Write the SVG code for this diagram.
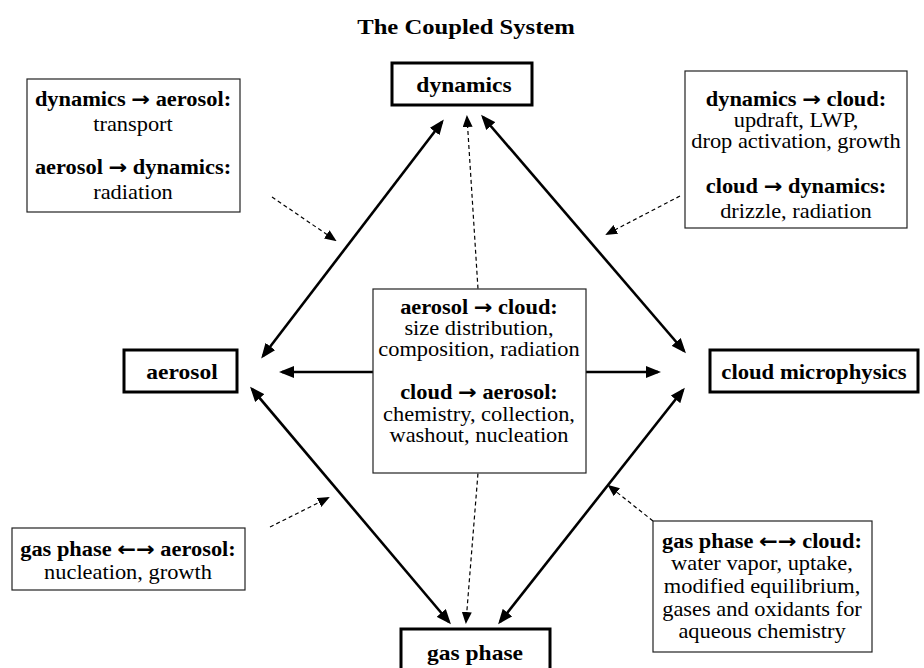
<svg xmlns="http://www.w3.org/2000/svg" width="924" height="668" viewBox="0 0 924 668">
  <style>
    text { font-family: "Liberation Serif", "Times New Roman", serif; fill: #000; text-anchor: middle; }
    .title { font-size: 22px; font-weight: bold; }
    .node-label { font-size: 21px; font-weight: bold; }
    .h { font-size: 20px; font-weight: bold; }
    .t { font-size: 20px; }
    .arr { font-family: "DejaVu Sans", sans-serif; font-weight: bold; }
    .node-box { fill: #fff; stroke: #000; stroke-width: 3; }
    .note-box { fill: #fff; stroke: #222; stroke-width: 1.2; }
    .solid { stroke: #000; stroke-width: 2.6; fill: none; }
    .dashed { stroke: #000; stroke-width: 1.2; stroke-dasharray: 4 3; fill: none; }
  </style>
  <defs>
    <marker id="head" markerUnits="userSpaceOnUse" markerWidth="16" markerHeight="12" refX="12" refY="6" orient="auto-start-reverse">
      <path d="M0,0 L15,6 L0,12 z" fill="#000"/>
    </marker>
    <marker id="head-small" markerUnits="userSpaceOnUse" markerWidth="12" markerHeight="10" refX="10" refY="5" orient="auto-start-reverse">
      <path d="M0,0 L12,5 L0,10 z" fill="#000"/>
    </marker>
  </defs>

  <rect width="924" height="668" fill="#fff"/>

  <text class="title" transform="translate(466,34) scale(1.12,1)">The Coupled System</text>

  <!-- connectors -->
  <g id="connectors">
    <line class="solid" x1="442" y1="122" x2="263" y2="356" marker-start="url(#head)" marker-end="url(#head)"/>
    <line class="solid" x1="483" y1="117" x2="684" y2="351" marker-start="url(#head)" marker-end="url(#head)"/>
    <line class="solid" x1="252" y1="389" x2="449" y2="622" marker-start="url(#head)" marker-end="url(#head)"/>
    <line class="solid" x1="683" y1="390" x2="500" y2="622" marker-start="url(#head)" marker-end="url(#head)"/>
    <line class="solid" x1="373" y1="372" x2="282" y2="372" marker-end="url(#head)"/>
    <line class="solid" x1="586" y1="372" x2="658" y2="372" marker-end="url(#head)"/>
    <path class="dashed" d="M467,117 L478,289 L478,473 L466,622" marker-start="url(#head-small)" marker-end="url(#head-small)"/>
    <line class="dashed" x1="272" y1="197" x2="335" y2="240" marker-end="url(#head-small)"/>
    <line class="dashed" x1="680" y1="196" x2="607" y2="234" marker-end="url(#head-small)"/>
    <line class="dashed" x1="270" y1="527" x2="328" y2="498" marker-end="url(#head-small)"/>
    <line class="dashed" x1="653" y1="521" x2="609" y2="486" marker-end="url(#head-small)"/>
  </g>

  <!-- main nodes -->
  <g id="dynamics">
    <rect class="node-box" x="392" y="63" width="140" height="42"/>
    <text class="node-label" transform="translate(464,92) scale(1.12,1)">dynamics</text>
  </g>
  <g id="aerosol">
    <rect class="node-box" x="124" y="350" width="113" height="42"/>
    <text class="node-label" transform="translate(182,379) scale(1.12,1)">aerosol</text>
  </g>
  <g id="cloud-microphysics">
    <rect class="node-box" x="710" y="350" width="208" height="42"/>
    <text class="node-label" transform="translate(814,379) scale(1.08,1)">cloud microphysics</text>
  </g>
  <g id="gas-phase">
    <rect class="node-box" x="401" y="629" width="149" height="44"/>
    <text class="node-label" transform="translate(475,660) scale(1.12,1)">gas phase</text>
  </g>

  <!-- interaction notes -->
  <g id="note-dynamics-aerosol">
    <rect class="note-box" x="27" y="79" width="213" height="133"/>
    <text class="h" transform="translate(133,106) scale(1.12,1)">dynamics <tspan class="arr">→</tspan> aerosol:</text>
    <text class="t" transform="translate(133,131) scale(1.12,1)">transport</text>
    <text class="h" transform="translate(133,174) scale(1.12,1)">aerosol <tspan class="arr">→</tspan> dynamics:</text>
    <text class="t" transform="translate(133,199) scale(1.12,1)">radiation</text>
  </g>
  <g id="note-dynamics-cloud">
    <rect class="note-box" x="685" y="71" width="222" height="157"/>
    <text class="h" transform="translate(796,106) scale(1.12,1)">dynamics <tspan class="arr">→</tspan> cloud:</text>
    <text class="t" transform="translate(796,127) scale(1.12,1)">updraft, LWP,</text>
    <text class="t" transform="translate(796,148) scale(1.12,1)">drop activation, growth</text>
    <text class="h" transform="translate(796,193) scale(1.12,1)">cloud <tspan class="arr">→</tspan> dynamics:</text>
    <text class="t" transform="translate(796,218) scale(1.12,1)">drizzle, radiation</text>
  </g>
  <g id="note-aerosol-cloud">
    <rect class="note-box" x="373" y="289" width="213" height="184"/>
    <text class="h" transform="translate(479,314) scale(1.12,1)">aerosol <tspan class="arr">→</tspan> cloud:</text>
    <text class="t" transform="translate(479,335) scale(1.12,1)">size distribution,</text>
    <text class="t" transform="translate(479,356) scale(1.12,1)">composition, radiation</text>
    <text class="h" transform="translate(479,399) scale(1.12,1)">cloud <tspan class="arr">→</tspan> aerosol:</text>
    <text class="t" transform="translate(479,421) scale(1.12,1)">chemistry, collection,</text>
    <text class="t" transform="translate(479,442) scale(1.12,1)">washout, nucleation</text>
  </g>
  <g id="note-gas-aerosol">
    <rect class="note-box" x="12" y="528" width="233" height="62"/>
    <text class="h" transform="translate(128,556) scale(1.12,1)">gas phase <tspan class="arr">←→</tspan> aerosol:</text>
    <text class="t" transform="translate(128,579) scale(1.12,1)">nucleation, growth</text>
  </g>
  <g id="note-gas-cloud">
    <rect class="note-box" x="653" y="521" width="219" height="131"/>
    <text class="h" transform="translate(762,548) scale(1.12,1)">gas phase <tspan class="arr">←→</tspan> cloud:</text>
    <text class="t" transform="translate(762,570) scale(1.12,1)">water vapor, uptake,</text>
    <text class="t" transform="translate(762,593) scale(1.12,1)">modified equilibrium,</text>
    <text class="t" transform="translate(762,616) scale(1.12,1)">gases and oxidants for</text>
    <text class="t" transform="translate(762,638) scale(1.12,1)">aqueous chemistry</text>
  </g>
</svg>
